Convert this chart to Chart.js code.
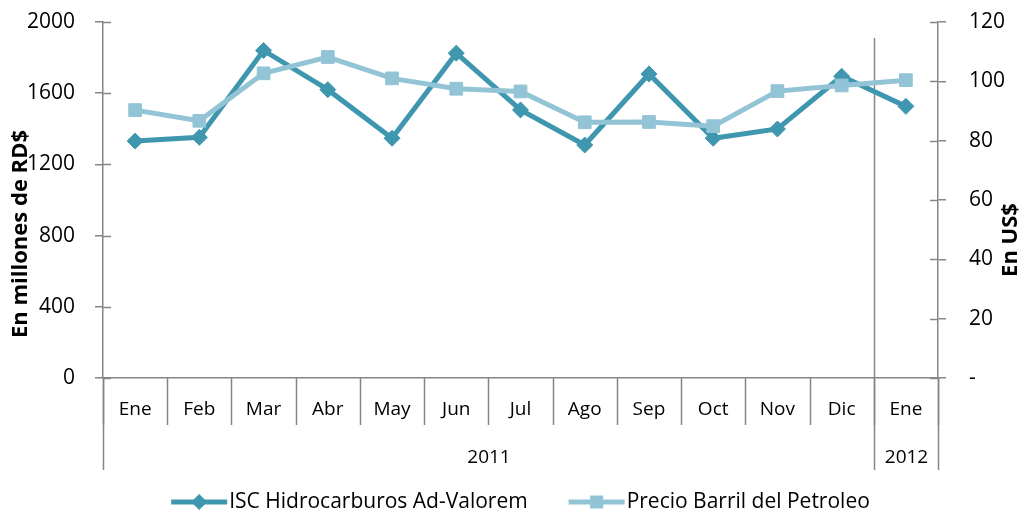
<!DOCTYPE html>
<html>
<head>
<meta charset="utf-8">
<script src="https://cdn.jsdelivr.net/npm/chart.js@4.4.0/dist/chart.umd.min.js"></script>
<style>
    body { margin: 0; background: #ffffff; }
</style>
</head>
<body>
<canvas id="grafico" width="1028" height="517"></canvas>
<script>
// datos
const meses = ['Ene', 'Feb', 'Mar', 'Abr', 'May', 'Jun', 'Jul', 'Ago', 'Sep', 'Oct', 'Nov', 'Dic', 'Ene'];
const anios = ['2011', '2012'];
const mesesPorAnio = [12, 1];
const iscHidrocarburos = [1331, 1352, 1840, 1620, 1347, 1825, 1506, 1309, 1708, 1347, 1399, 1695, 1526];
const precioBarril = [90.3, 86.7, 102.7, 108.2, 101.0, 97.5, 96.6, 86.2, 86.3, 84.9, 96.7, 98.6, 100.4];
const nombresSeries = ['ISC Hidrocarburos Ad-Valorem', 'Precio Barril del Petroleo'];
const tituloIzq = 'En millones de RD$';
const tituloDer = 'En US$';

const colorGris = '#868686';
const colorIsc = '#3F97AF';
const colorPrecio = '#93C4D6';

Chart.defaults.font.family = '"Open Sans", sans-serif';
Chart.defaults.color = '#000000';

function marcador(ctx, estilo, x, y, color) {
    ctx.fillStyle = color;
    ctx.beginPath();
    if (estilo == 'rectRot') {
        ctx.moveTo(x - 8, y);
        ctx.lineTo(x, y - 8);
        ctx.lineTo(x + 8, y);
        ctx.lineTo(x, y + 8);
        ctx.closePath();
    } else {
        ctx.rect(x - 6.5, y - 6.5, 13, 13);
    }
    ctx.fill();
}

// separadores del eje x, anios, titulos y leyenda
const extras = {
    id: 'extras',
    beforeDatasetsDraw(chart) {
        const ctx = chart.ctx;
        const area = chart.chartArea;
        const x = chart.scales.x;
        const paso = x.getPixelForValue(1) - x.getPixelForValue(0);
        const borde = (i) => Math.round(x.getPixelForValue(i) - paso / 2) + 0.5;
        const fondoMes = area.bottom + 47;
        const fondoAnio = area.bottom + 92;

        ctx.save();
        ctx.strokeStyle = colorGris;
        ctx.lineWidth = 1.5;

        // lineas entre meses
        for (let i = 0; i <= meses.length; i++) {
            ctx.beginPath();
            ctx.moveTo(borde(i), area.bottom);
            ctx.lineTo(borde(i), fondoMes);
            ctx.stroke();
        }

        // lineas entre anios
        let inicio = 0;
        ctx.font = '19px "Open Sans"';
        ctx.fillStyle = '#000000';
        ctx.textAlign = 'center';
        ctx.textBaseline = 'middle';
        for (let a = 0; a <= anios.length; a++) {
            ctx.beginPath();
            ctx.moveTo(borde(inicio), a > 0 && a < anios.length ? area.top + 16 : area.bottom);
            ctx.lineTo(borde(inicio), fondoAnio);
            ctx.stroke();
            if (a < anios.length) {
                const fin = inicio + mesesPorAnio[a];
                ctx.fillText(anios[a], (borde(inicio) + borde(fin)) / 2, area.bottom + 80);
                inicio = fin;
            }
        }

        // marcas hacia adentro de los ejes y
        const yIzq = chart.scales.y;
        const yDer = chart.scales.y1;
        yIzq.ticks.forEach((t) => {
            const py = Math.round(yIzq.getPixelForValue(t.value)) + 0.5;
            ctx.beginPath();
            ctx.moveTo(area.left, py);
            ctx.lineTo(area.left + 8, py);
            ctx.stroke();
        });
        yDer.ticks.forEach((t) => {
            const py = Math.round(yDer.getPixelForValue(t.value)) + 0.5;
            ctx.beginPath();
            ctx.moveTo(area.right - 8, py);
            ctx.lineTo(area.right, py);
            ctx.stroke();
        });

        // titulos de los ejes
        ctx.font = 'bold 22px "Open Sans"';
        ctx.save();
        ctx.translate(21, 234);
        ctx.rotate(-Math.PI / 2);
        ctx.fillText(tituloIzq, 0, 0);
        ctx.restore();
        ctx.save();
        ctx.translate(1011, 240);
        ctx.rotate(-Math.PI / 2);
        ctx.fillText(tituloDer, 0, 0);
        ctx.restore();

        // leyenda
        ctx.font = '21px "Open Sans"';
        ctx.textAlign = 'left';
        const anchoLinea = 56;
        const hueco = 2;
        const separacion = 41;
        const items = chart.data.datasets;
        const anchos = items.map((d) => anchoLinea + hueco + ctx.measureText(d.label).width);
        const total = anchos.reduce((s, w) => s + w, 0) + separacion * (items.length - 1);
        let xl = (area.left + area.right) / 2 - total / 2;
        const yl = 502;
        items.forEach((d, i) => {
            ctx.strokeStyle = d.borderColor;
            ctx.lineWidth = 5;
            ctx.beginPath();
            ctx.moveTo(xl, yl);
            ctx.lineTo(xl + anchoLinea, yl);
            ctx.stroke();
            marcador(ctx, d.pointStyle, xl + anchoLinea / 2, yl, d.borderColor);
            ctx.fillStyle = '#000000';
            ctx.fillText(d.label, xl + anchoLinea + hueco, yl);
            xl += anchos[i] + separacion;
        });

        ctx.restore();
    }
};

let grafico = new Chart(document.getElementById('grafico'), {
    type: 'line',
    data: {
        labels: meses,
        datasets: [{
            label: nombresSeries[0],
            data: iscHidrocarburos,
            yAxisID: 'y',
            order: 1,
            borderColor: colorIsc,
            backgroundColor: colorIsc,
            borderWidth: 5,
            pointStyle: 'rectRot',
            pointRadius: 8,
            pointBorderWidth: 1,
            tension: 0
        }, {
            label: nombresSeries[1],
            data: precioBarril,
            yAxisID: 'y1',
            order: 0,
            borderColor: colorPrecio,
            backgroundColor: colorPrecio,
            borderWidth: 5,
            pointStyle: 'rect',
            pointRadius: 9,
            pointBorderWidth: 1,
            tension: 0
        }]
    },
    options: {
        responsive: false,
        animation: false,
        layout: { padding: { top: 22, left: 0, right: 0, bottom: 0 } },
        plugins: {
            legend: { display: false },
            tooltip: { enabled: false }
        },
        scales: {
            x: {
                offset: true,
                grid: { display: false, drawTicks: false },
                border: { display: true, color: colorGris, width: 1.5 },
                ticks: { font: { size: 19 }, padding: 20, autoSkip: false, maxRotation: 0 },
                afterFit: (s) => { s.height = 139; }
            },
            y: {
                position: 'left',
                min: 0,
                max: 2000,
                ticks: { stepSize: 400, font: { size: 21 }, padding: 20, callback: (v) => String(v) },
                grid: { drawOnChartArea: false, tickLength: 8, color: colorGris, lineWidth: 1.5 },
                border: { color: colorGris, width: 1.5 },
                afterFit: (s) => { s.width = 103; s.paddingTop = 0; s.paddingBottom = 0; }
            },
            y1: {
                position: 'right',
                min: 0,
                max: 120,
                ticks: {
                    stepSize: 20,
                    font: { size: 21 },
                    padding: 23,
                    callback: (v) => v === 0 ? '-' : String(v)
                },
                grid: { drawOnChartArea: false, tickLength: 8, color: colorGris, lineWidth: 1.5 },
                border: { color: colorGris, width: 1.5 },
                afterFit: (s) => { s.width = 90; s.paddingTop = 0; s.paddingBottom = 0; }
            }
        }
    },
    plugins: [extras]
});
</script>
</body>
</html>
